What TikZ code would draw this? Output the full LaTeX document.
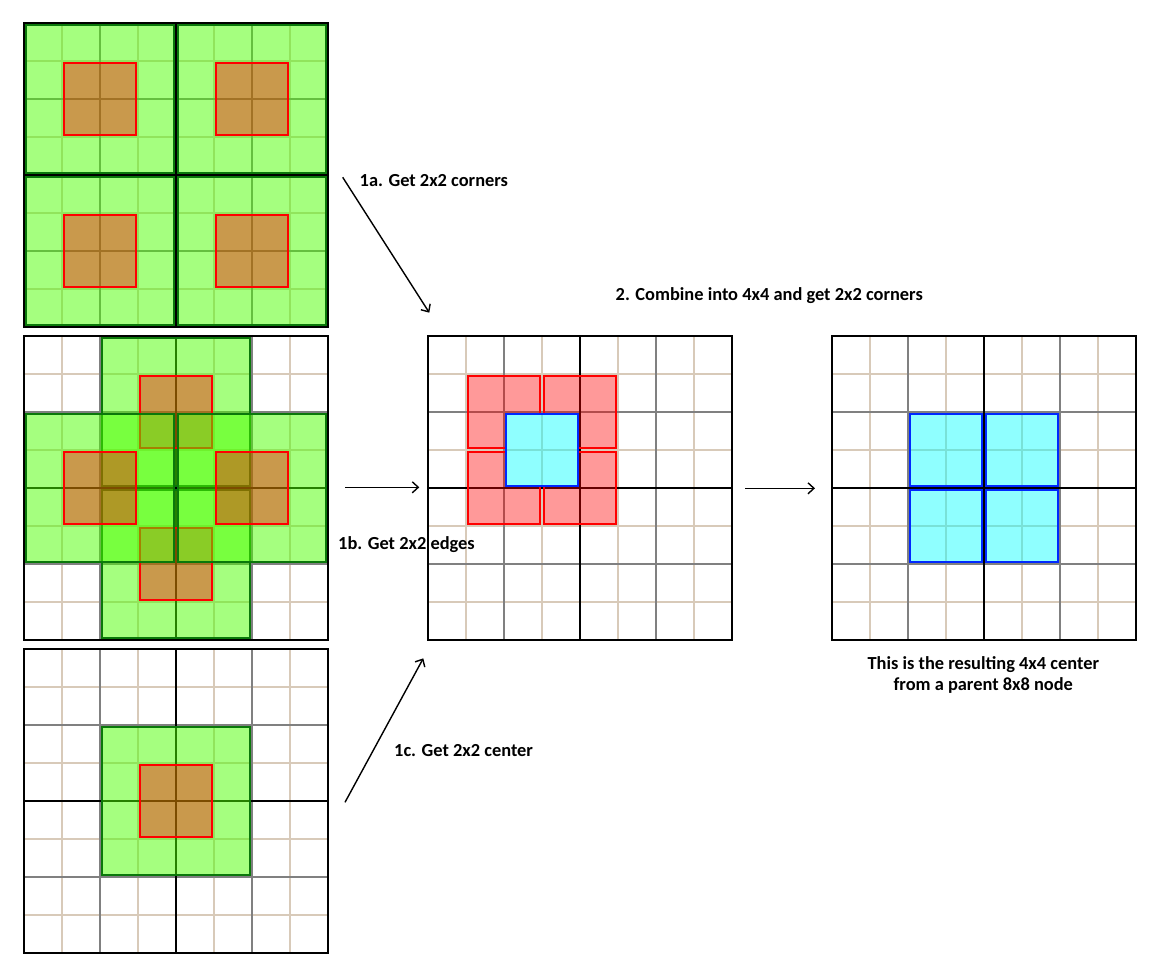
\documentclass[tikz,border=0pt]{standalone}
\usepackage{fontspec}
\setmainfont{Carlito}
\usepackage{tikz}
\usetikzlibrary{arrows.meta}

\definecolor{tan}{RGB}{216,202,185}
\definecolor{leaf}{RGB}{76,255,0}
\definecolor{darkleaf}{RGB}{10,120,10}
\definecolor{aqua}{RGB}{0,255,255}
\definecolor{deepblue}{RGB}{0,40,255}

\newcommand{\cellboard}{%
  \foreach \i in {1,3,5,7} {\draw[Fine] (\i,0) -- (\i,8) (0,\i) -- (8,\i);}
  \foreach \i in {2,6} {\draw[Mid] (\i,0) -- (\i,8) (0,\i) -- (8,\i);}
  \draw[Major] (4,0) -- (4,8) (0,4) -- (8,4);
  \draw[Frame] (0,0) rectangle (8,8);
}
\newcommand{\greenblock}[2]{%
  \draw[Green] (#1+0.05,#2+0.05) rectangle (#1+3.95,#2+3.95);
  \draw[Red] (#1+1.05,#2+1.05) rectangle (#1+2.95,#2+2.95);
}

\begin{document}
\begin{tikzpicture}[x=1pt, y=-1pt,
        Fine/.style = {draw = tan, line width = 1.3pt},
        Mid/.style = {draw = gray, line width = 1.3pt},
        Major/.style = {draw = black, line width = 1.5pt},
        Frame/.style = {draw = black, line width = 2pt},
        Green/.style = {draw = darkleaf, line width = 1.7pt, fill = leaf, fill opacity = 0.5},
        Red/.style = {draw = red, line width = 1.7pt, fill = red, fill opacity = 0.4},
        Cyan/.style = {draw = deepblue, line width = 1.7pt, fill = aqua, fill opacity = 0.44},
        Arrow/.style = {line width = 1.4pt, -{Straight Barb[length=6pt, width=11pt]}},
        Label/.style = {font = \fontsize{18.4}{21.7}\selectfont\bfseries, inner sep = 0pt}]
    \useasboundingbox (0,0) rectangle (1150,966);
    \coordinate (A) at (24,23);
    \coordinate (B) at (24,336);
    \coordinate (C) at (24,649);
    \coordinate (D) at (428,336);
    \coordinate (E) at (832,336);

    \begin{scope}[shift = {(A)}, x = 38pt, y = -38pt]
        \cellboard
        \greenblock{0}{0}
        \greenblock{4}{0}
        \greenblock{0}{4}
        \greenblock{4}{4}
    \end{scope}

    \begin{scope}[shift = {(B)}, x = 38pt, y = -38pt]
        \cellboard
        \greenblock{2}{0}
        \greenblock{2}{4}
        \greenblock{0}{2}
        \greenblock{4}{2}
    \end{scope}

    \begin{scope}[shift = {(C)}, x = 38pt, y = -38pt]
        \cellboard
        \greenblock{2}{2}
    \end{scope}

    \begin{scope}[shift = {(D)}, x = 38pt, y = -38pt]
        \cellboard
        \draw[Red] (1.05,1.05) rectangle (2.95,2.95);
        \draw[Red] (3.05,1.05) rectangle (4.95,2.95);
        \draw[Red] (1.05,3.05) rectangle (2.95,4.95);
        \draw[Red] (3.05,3.05) rectangle (4.95,4.95);
        \begin{scope}
            \clip (2.05,2.05) rectangle (3.95,3.95);
            \fill[white] (2,2) rectangle (4,4);
            \cellboard
        \end{scope}
        \draw[Cyan] (2.05,2.05) rectangle (3.95,3.95);
    \end{scope}

    \begin{scope}[shift = {(E)}, x = 38pt, y = -38pt]
        \cellboard
        \draw[Cyan] (2.05,2.05) rectangle (3.95,3.95);
        \draw[Cyan] (4.05,2.05) rectangle (5.95,3.95);
        \draw[Cyan] (2.05,4.05) rectangle (3.95,5.95);
        \draw[Cyan] (4.05,4.05) rectangle (5.95,5.95);
    \end{scope}

    \coordinate (a1) at (342.7,177.3);
    \coordinate (a2) at (429.3,312.7);
    \coordinate (b1) at (345,487.3);
    \coordinate (b2) at (419.3,487.3);
    \coordinate (c1) at (345,802.3);
    \coordinate (c2) at (423.3,658.3);
    \coordinate (d1) at (745,488.3);
    \coordinate (d2) at (815,488.3);
    \draw[Arrow] (a1) -- (a2);
    \draw[Arrow] (b1) -- (b2);
    \draw[Arrow] (c1) -- (c2);
    \draw[Arrow] (d1) -- (d2);

    \node[Label, anchor = base west] (l1a) at (359.5,186.5) {1a. Get 2x2 corners};
    \node[Label, anchor = base west] (l2) at (615.5,300.7) {2. Combine into 4x4 and get 2x2 corners};
    \node[Label, anchor = base west] (l1b) at (338,549.3) {1b. Get 2x2 edges};
    \node[Label, anchor = base west] (l1c) at (394,756.7) {1c. Get 2x2 center};
    \node[Label, align = center, anchor = base] (lres) at (983.3,690.7) {This is the resulting 4x4 center\\from a parent 8x8 node};
\end{tikzpicture}
\end{document}
